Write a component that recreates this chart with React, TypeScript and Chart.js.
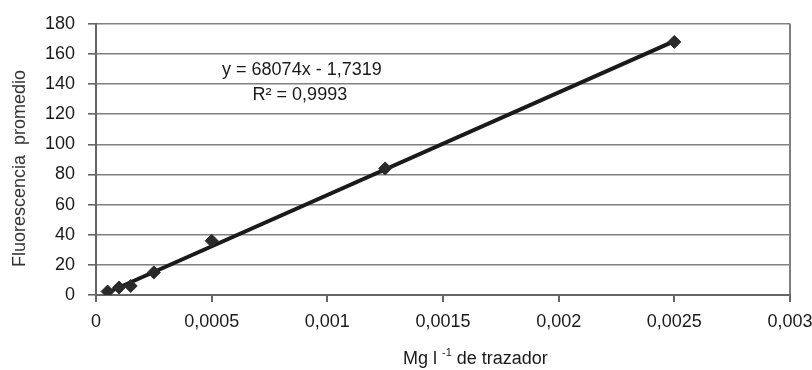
import React, { useEffect, useRef } from "react";
import { Chart, registerables } from "chart.js";

Chart.register(...registerables);

const concentrations = [0.00005, 0.0001, 0.00015, 0.00025, 0.0005, 0.00125, 0.0025];
const fluorescence = [2.3, 5, 6, 15, 36, 84, 168];
const trendSlope = 68074;
const trendIntercept = -1.7319;
const trendRange = [0.00005, 0.0025];
const xTicks = [0, 0.0005, 0.001, 0.0015, 0.002, 0.0025, 0.003];
const xTickLabels = ["0", "0,0005", "0,001", "0,0015", "0,002", "0,0025", "0,003"];
const equationText = "y = 68074x - 1,7319";
const r2Text = "R² = 0,9993";
const yTitle = "Fluorescencia  promedio";

const FONT = "'Liberation Sans', Arial, sans-serif";

const annotations = {
  id: "annotations",
  afterDraw(chart: any) {
    const ctx = chart.ctx;
    const xs = chart.scales.x;
    const ys = chart.scales.y;
    ctx.save();
    ctx.fillStyle = "#1a1a1a";
    ctx.font = `18px ${FONT}`;
    ctx.textAlign = "center";
    ctx.textBaseline = "middle";
    const ex = xs.getPixelForValue(0.00089);
    ctx.fillText(equationText, ex, ys.getPixelForValue(149));
    ctx.fillText(r2Text, ex - 2, ys.getPixelForValue(132.5));

    // y title
    ctx.save();
    ctx.translate(20, ys.getPixelForValue(84));
    ctx.rotate(-Math.PI / 2);
    ctx.fillStyle = "#333";
    ctx.font = `18px ${FONT}`;
    ctx.fillText(yTitle, 0, 0);
    ctx.restore();

    // x title with superscript
    const parts = ["Mg l ", "-1", " de trazador"];
    ctx.textAlign = "left";
    ctx.textBaseline = "alphabetic";
    ctx.font = `18px ${FONT}`;
    const w0 = ctx.measureText(parts[0]).width;
    const w2 = ctx.measureText(parts[2]).width;
    ctx.font = `11px ${FONT}`;
    const w1 = ctx.measureText(parts[1]).width;
    const total = w0 + w1 + w2;
    let x = xs.getPixelForValue(0.00164) - total / 2;
    const base = 364;
    ctx.font = `18px ${FONT}`;
    ctx.fillText(parts[0], x, base);
    x += w0;
    ctx.font = `11px ${FONT}`;
    ctx.fillText(parts[1], x, base - 8);
    x += w1;
    ctx.font = `18px ${FONT}`;
    ctx.fillText(parts[2], x, base);
    ctx.restore();
  },
};

export default function App() {
  const ref = useRef<HTMLCanvasElement | null>(null);
  useEffect(() => {
    document.body.style.margin = "0";
    const points = concentrations.map((c, i) => ({ x: c, y: fluorescence[i] }));
    const trend = trendRange.map((c) => ({ x: c, y: trendSlope * c + trendIntercept }));
    const chart = new Chart(ref.current!, {
      type: "scatter",
      data: {
        datasets: [
          {
            data: points,
            pointStyle: "rectRot",
            pointRadius: 6.5,
            pointBackgroundColor: "#2a2a2a",
            pointBorderColor: "#2a2a2a",
            showLine: false,
            order: 0,
          },
          {
            data: trend,
            showLine: true,
            borderColor: "#1a1a1a",
            borderWidth: 4,
            pointRadius: 0,
            order: 1,
          },
        ],
      },
      options: {
        animation: false,
        responsive: false,
        maintainAspectRatio: false,
        layout: { padding: { top: 22, right: 22, left: 0, bottom: 0 } },
        plugins: { legend: { display: false }, tooltip: { enabled: false } },
        scales: {
          x: {
            type: "linear",
            min: 0,
            max: 0.003,
            afterBuildTicks: (s: any) => {
              s.ticks = xTicks.map((v) => ({ value: v }));
            },
            afterFit: (s: any) => {
              s.height = 75;
              s.paddingRight = 0;
              s.paddingLeft = 0;
            },
            ticks: {
              font: { family: FONT, size: 18 },
              color: "#1a1a1a",
              padding: 9,
              maxRotation: 0,
              autoSkip: false,
              callback: (v: any) => {
                const i = xTicks.findIndex((t) => Math.abs(t - v) < 1e-9);
                return i >= 0 ? xTickLabels[i] : "";
              },
            },
            grid: {
              color: (c: any) => (c.tick && Math.abs(c.tick.value - 0.003) < 1e-9 ? "#808080" : "rgba(0,0,0,0)"),
              tickColor: "#666",
              lineWidth: 2,
              tickLength: 7,
              drawTicks: true,
            },
            border: { color: "#666", width: 2 },
          },
          y: {
            min: 0,
            max: 180,
            afterFit: (s: any) => {
              s.width = 96;
            },
            ticks: {
              stepSize: 20,
              font: { family: FONT, size: 18 },
              color: "#1a1a1a",
              padding: 13,
            },
            grid: {
              color: "#808080",
              tickColor: "#666",
              lineWidth: 1.6,
              tickLength: 8,
            },
            border: { color: "#666", width: 2 },
          },
        },
      },
      plugins: [annotations],
    });
    return () => chart.destroy();
  }, []);
  return (
    <div style={{ width: 812, height: 370, background: "#fff" }}>
      <canvas ref={ref} width={812} height={370} style={{ width: 812, height: 370, display: "block" }} />
    </div>
  );
}
